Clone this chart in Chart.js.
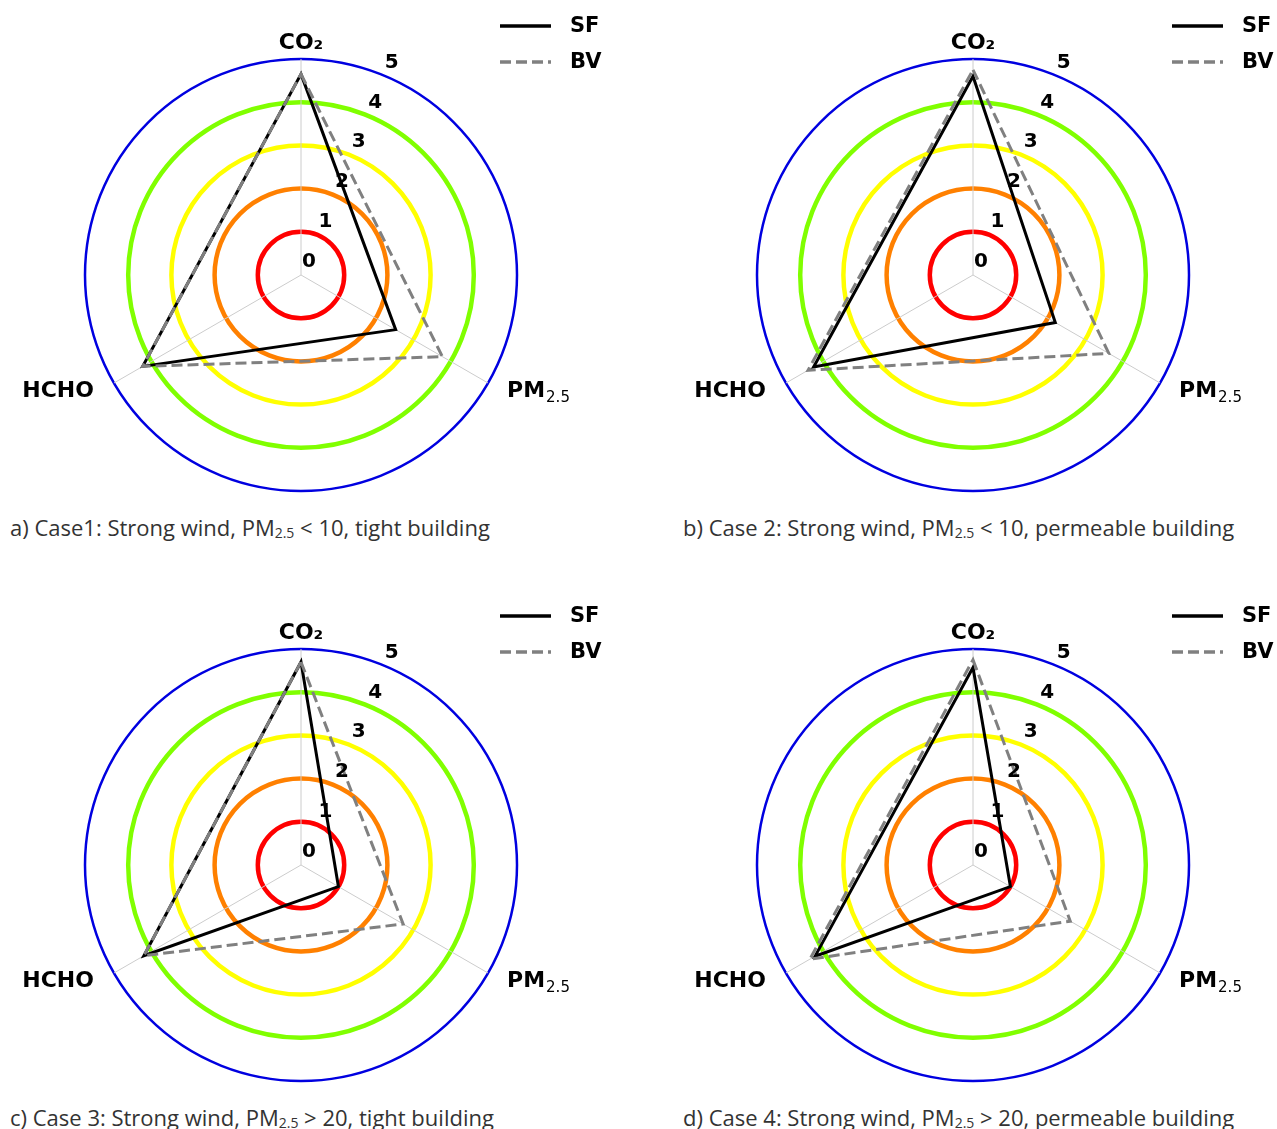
<!DOCTYPE html>
<html>
<head>
<meta charset="utf-8">
<script src="https://cdn.jsdelivr.net/npm/chart.js@4"></script>
<style>
  body { margin: 0; background: #fff; width: 1277px; height: 1129px; overflow: hidden; position: relative; }
  .panel { position: absolute; }
  .cap { position: absolute; margin: 0; font-family: "Open Sans", sans-serif; font-size: 22px; line-height: 28px; color: #333; white-space: nowrap; }
  .cap sub { font-size: 14px; vertical-align: -2px; }
</style>
</head>
<body>
<div class="panel" style="left:0px;top:0px"><canvas id="chartA" width="640" height="500"></canvas></div>
<div class="panel" style="left:672px;top:0px"><canvas id="chartB" width="605" height="500"></canvas></div>
<div class="panel" style="left:0px;top:590px"><canvas id="chartC" width="640" height="500"></canvas></div>
<div class="panel" style="left:672px;top:590px"><canvas id="chartD" width="605" height="500"></canvas></div>
<p class="cap" style="left:10px;top:513px">a) Case1: Strong wind, PM<sub>2.5</sub> &lt; 10, tight building</p>
<p class="cap" style="left:683px;top:513px">b) Case 2: Strong wind, PM<sub>2.5</sub> &lt; 10, permeable building</p>
<p class="cap" style="left:10px;top:1103px">c) Case 3: Strong wind, PM<sub>2.5</sub> &gt; 20, tight building</p>
<p class="cap" style="left:683px;top:1103px">d) Case 4: Strong wind, PM<sub>2.5</sub> &gt; 20, permeable building</p>
<script>
// axes of the radar
const axisMain = ['CO₂', 'PM', 'HCHO'];
const axisSub = ['', '2.5', ''];

// SF = solid black, BV = dashed grey
const sfCase1 = [4.65, 2.53, 4.23];
const bvCase1 = [4.65, 3.78, 4.23];
const sfCase2 = [4.6, 2.2, 4.26];
const bvCase2 = [4.75, 3.63, 4.41];
const sfCase3 = [4.7, 1.0, 4.2];
const bvCase3 = [4.7, 2.73, 4.2];
const sfCase4 = [4.57, 1.0, 4.22];
const bvCase4 = [4.75, 2.6, 4.36];

const tickValues = [0, 1, 2, 3, 4, 5];
const ringColors = ['#ffffff', '#ff0000', '#ff8000', '#ffff00', '#80ff00', '#0000e0'];

const FONT = '"DejaVu Sans", sans-serif';

// tick labels, axis labels and legend
const overlay = {
    id: 'overlay',
    afterDraw(chart) {
        const ctx = chart.ctx;
        const r = chart.scales.r;
        ctx.save();

        // tick numbers along a 22.5 degree line
        const a = 22.5 * Math.PI / 180;
        ctx.font = 'bold 20px ' + FONT;
        ctx.fillStyle = '#000';
        ctx.textAlign = 'center';
        ctx.textBaseline = 'middle';
        r.ticks.forEach(t => {
            const d = r.getDistanceFromCenterForValue(t.value);
            ctx.fillText(String(t.value), r.xCenter + d * Math.sin(a) + 8, r.yCenter - d * Math.cos(a) - 13);
        });

        // axis names
        ctx.textBaseline = 'alphabetic';
        axisMain.forEach((main, i) => {
            const p = r.getPointPosition(i, r.drawingArea);
            const dx = p.x - r.xCenter;
            ctx.font = 'bold 22px ' + FONT;
            const wMain = ctx.measureText(main).width;
            ctx.font = '15px ' + FONT;
            const wSub = axisSub[i] ? ctx.measureText(axisSub[i]).width + 1 : 0;
            let x, y;
            if (Math.abs(dx) < 1) {
                x = p.x - (wMain + wSub) / 2;
                y = p.y - 10;
            } else if (dx > 0) {
                x = p.x + 19;
                y = p.y + 14;
            } else {
                x = p.x - 20 - wMain - wSub;
                y = p.y + 14;
            }
            ctx.textAlign = 'left';
            ctx.font = 'bold 22px ' + FONT;
            ctx.fillText(main, x, y);
            if (axisSub[i]) {
                ctx.font = '15px ' + FONT;
                ctx.fillText(axisSub[i], x + wMain + 1, y + 5);
            }
        });

        // legend top right
        chart.data.datasets.slice().sort((p, q) => q.order - p.order).forEach((ds, k) => {
            const y = r.yCenter - 249 + k * 36;
            ctx.beginPath();
            ctx.strokeStyle = ds.borderColor;
            ctx.lineWidth = 3.5;
            ctx.setLineDash(ds.borderDash || []);
            ctx.moveTo(r.xCenter + 199, y);
            ctx.lineTo(r.xCenter + 250, y);
            ctx.stroke();
            ctx.setLineDash([]);
            ctx.font = 'bold 21px ' + FONT;
            ctx.fillStyle = '#000';
            ctx.textAlign = 'left';
            ctx.textBaseline = 'middle';
            ctx.fillText(ds.label, r.xCenter + 269, y + 1);
        });
        ctx.restore();
    }
};

function makeRadar(id, sf, bv, rightPad) {
    new Chart(document.getElementById(id), {
        type: 'radar',
        data: {
            labels: axisMain.map((m, i) => m + axisSub[i]),
            datasets: [
                {
                    label: 'SF',
                    data: sf,
                    borderColor: '#000000',
                    borderWidth: 3,
                    fill: false,
                    pointRadius: 0,
                    order: 1
                },
                {
                    label: 'BV',
                    data: bv,
                    borderColor: '#808080',
                    borderWidth: 3,
                    borderDash: [11, 5],
                    fill: false,
                    pointRadius: 0,
                    order: 0
                }
            ]
        },
        options: {
            responsive: false,
            animation: false,
            layout: { padding: { left: 85, top: 59, right: rightPad, bottom: 9 } },
            plugins: { legend: { display: false }, tooltip: { enabled: false } },
            elements: { line: { tension: 0, borderJoinStyle: 'miter' } },
            scales: {
                r: {
                    min: tickValues[0],
                    max: tickValues[tickValues.length - 1],
                    ticks: { stepSize: 1, display: false },
                    pointLabels: { display: false },
                    angleLines: { color: '#cccccc', lineWidth: 1 },
                    grid: {
                        circular: true,
                        color: c => ringColors[c.tick.value],
                        lineWidth: c => c.tick.value === 5 ? 2.5 : 4.5
                    }
                }
            }
        },
        plugins: [overlay]
    });
}

makeRadar('chartA', sfCase1, bvCase1, 123);
makeRadar('chartB', sfCase2, bvCase2, 88);
makeRadar('chartC', sfCase3, bvCase3, 123);
makeRadar('chartD', sfCase4, bvCase4, 88);
</script>
</body>
</html>
